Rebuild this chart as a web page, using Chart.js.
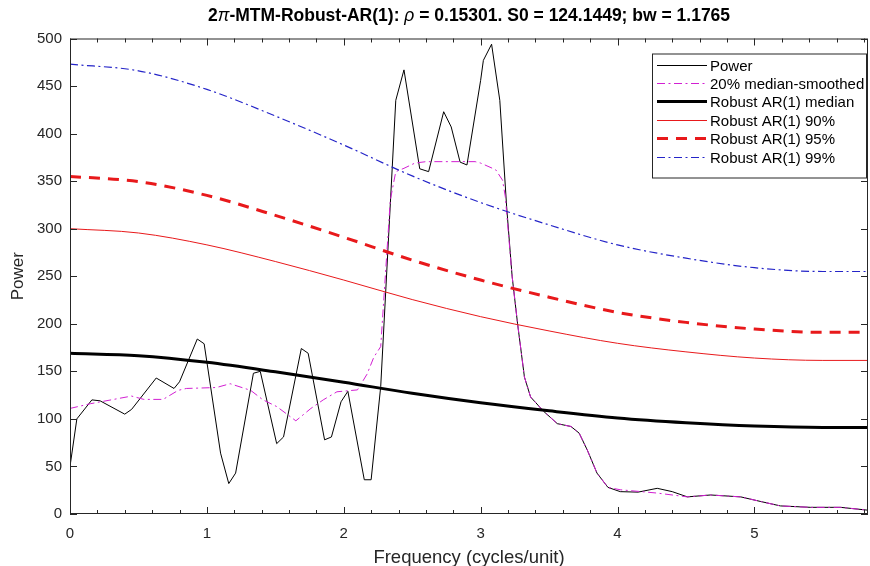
<!DOCTYPE html>
<html>
<head>
<meta charset="utf-8">
<script src="https://cdn.jsdelivr.net/npm/chart.js@4.4.0/dist/chart.umd.min.js"></script>
<style>
  html, body { margin: 0; padding: 0; background: #fff; }
</style>
</head>
<body>
<canvas id="chart" width="870" height="566"></canvas>
<script>
// power spectrum
const freq = [0, 0.05, 0.16, 0.22, 0.40, 0.45, 0.63, 0.76, 0.80, 0.93,
  0.98, 1.10, 1.16, 1.21, 1.34, 1.39, 1.51, 1.56, 1.69, 1.74,
  1.86, 1.91, 1.98, 2.03, 2.15, 2.20, 2.27, 2.38, 2.44, 2.555,
  2.62, 2.73, 2.785, 2.85, 2.90, 3.00, 3.02, 3.08, 3.14, 3.19,
  3.23, 3.27, 3.32, 3.365, 3.46, 3.56, 3.66, 3.72, 3.78, 3.85,
  3.93, 4.02, 4.15, 4.29, 4.40, 4.51, 4.68, 4.90, 5.05, 5.19,
  5.41, 5.63, 5.83];
const power = [50, 100, 120, 119, 105, 110, 143, 132, 139, 184,
  179, 64, 32, 43, 148, 150, 74, 81, 174, 169,
  78, 81, 118, 129, 36, 36, 134, 435, 467, 363,
  360, 423, 407, 370, 367, 456, 477, 494, 435, 323,
  250, 200, 144, 123, 108, 95, 92, 85, 67, 43,
  28, 23.5, 23, 27, 23.5, 18, 20, 18, 13, 8.5,
  7, 7, 4];

// 20% median-smoothed
const smoothFreq = [0, 0.15, 0.30, 0.45, 0.54, 0.68, 0.79, 0.85, 1.07, 1.17,
  1.32, 1.41, 1.51, 1.65, 1.76, 1.85, 1.95, 2.10, 2.17, 2.22,
  2.27, 2.34, 2.38, 2.44, 2.52, 2.60, 2.96, 3.00, 3.11, 3.16,
  3.18, 3.23, 3.27, 3.32, 3.365, 3.46, 3.56, 3.66, 3.72, 3.78,
  3.85, 3.93, 4.02, 4.29, 4.51, 4.68, 4.90, 5.05, 5.19, 5.41,
  5.63, 5.83];
const smoothed = [111, 116, 120, 124, 120.5, 120.5, 130, 132, 133, 137,
  130, 120, 113, 98, 111, 120, 128.5, 130.5, 147, 165,
  176, 330, 360, 363.5, 369, 370.5, 370.5, 369, 362, 351,
  334, 250, 200, 144, 123, 108, 95, 92, 85, 67,
  43, 28, 25.5, 22, 18, 20, 18, 13, 8.5, 7,
  7, 4];

// robust AR(1) background + confidence levels
const arFreq   = [0, 0.5, 1, 1.5, 2, 2.5, 3, 3.5, 4, 4.5, 5, 5.5, 5.83];
const arMedian = [169, 166.5, 159.5, 149.5, 138.5, 127, 117, 108.5, 101, 96, 92.5, 91, 91];
const ar90     = [300, 295.5, 283, 265.5, 246, 225.5, 207.5, 192.5, 179.5, 170.5, 164, 161.5, 161.5];
const ar95     = [355, 349.5, 335, 314, 291, 267, 246, 228, 212, 201.5, 194.5, 191, 191];
const ar99     = [473, 466, 446.5, 418.5, 388, 355.5, 327.5, 304, 283, 269, 259, 255, 255];

const xTickLabels = ['0', '1', '2', '3', '4', '5'];
const yTickLabels = ['0', '50', '100', '150', '200', '250', '300', '350', '400', '450', '500'];

// title pieces: greek letters in italic, rest bold (TeX interpreter look)
const titleParts = [
  ['2', 'bold'], ['π', 'italic'], ['-MTM-Robust-AR(1): ', 'bold'], ['ρ', 'italic'],
  [' = 0.15301. S0 = 124.1449; bw = 1.1765', 'bold']
];

const xMax = 5.83;
const FONT = '"Liberation Sans", Arial, Helvetica, sans-serif';
const AXIS = '#262626';

const pts = (xs, ys) => xs.map((x, i) => ({ x, y: ys[i] }));

Chart.defaults.font.family = FONT;
Chart.defaults.color = AXIS;

// MATLAB style box with inward ticks
const frame = {
  id: 'frame',
  afterDatasetsDraw(chart) {
    const { ctx, chartArea: a, scales: { x, y } } = chart;
    ctx.save();
    ctx.strokeStyle = AXIS;
    ctx.lineWidth = 1;
    ctx.strokeRect(a.left + 0.5, a.top + 0.5, a.right - a.left - 1, a.bottom - a.top - 1);
    ctx.beginPath();
    for (let i = 0; i * 0.2 <= xMax + 1e-9; i++) {
      const px = Math.round(x.getPixelForValue(i * 0.2)) + 0.5;
      const len = i % 5 === 0 ? 7 : 4;
      ctx.moveTo(px, a.bottom); ctx.lineTo(px, a.bottom - len);
      ctx.moveTo(px, a.top); ctx.lineTo(px, a.top + len);
    }
    for (let v = 0; v <= 500; v += 50) {
      const py = Math.round(y.getPixelForValue(v)) + 0.5;
      ctx.moveTo(a.left, py); ctx.lineTo(a.left + 7, py);
      ctx.moveTo(a.right, py); ctx.lineTo(a.right - 7, py);
    }
    ctx.stroke();
    ctx.restore();
  }
};

// title centred over the axes box
const boxTitle = {
  id: 'boxTitle',
  afterDraw(chart) {
    const { ctx, chartArea: a } = chart;
    ctx.save();
    ctx.fillStyle = '#000';
    ctx.textBaseline = 'middle';
    const fontOf = st => (st === 'bold' ? 'bold ' : 'italic ') + '17.5px ' + FONT;
    let total = 0;
    titleParts.forEach(([t, st]) => { ctx.font = fontOf(st); total += ctx.measureText(t).width; });
    let x = (a.left + a.right) / 2 - total / 2;
    titleParts.forEach(([t, st]) => {
      ctx.font = fontOf(st);
      ctx.fillText(t, x, 16);
      x += ctx.measureText(t).width;
    });
    ctx.restore();
  }
};

// legend box in the upper right, like MATLAB's 'northeast'
const boxLegend = {
  id: 'boxLegend',
  afterDraw(chart) {
    const { ctx, chartArea: a } = chart;
    const w = 214, h = 124;
    const left = a.right - 2 - w, top = a.top + 15;
    ctx.save();
    ctx.fillStyle = '#fff';
    ctx.fillRect(left, top, w, h);
    ctx.strokeStyle = AXIS;
    ctx.lineWidth = 1;
    ctx.strokeRect(left + 0.5, top + 0.5, w, h);
    ctx.font = '15px ' + FONT;
    ctx.textBaseline = 'middle';
    chart.data.datasets.forEach((ds, i) => {
      const cy = Math.round(top + 11 + i * 18.4) + 0.5;
      ctx.strokeStyle = ds.borderColor;
      ctx.lineWidth = ds.borderWidth;
      ctx.setLineDash(ds.borderDash || []);
      ctx.beginPath();
      ctx.moveTo(left + 5, cy);
      ctx.lineTo(left + 55, cy);
      ctx.stroke();
      ctx.setLineDash([]);
      ctx.fillStyle = '#000';
      ctx.fillText(ds.label, left + 58, cy + 1);
    });
    ctx.restore();
  }
};

new Chart(document.getElementById('chart'), {
  type: 'line',
  data: {
    datasets: [
      { label: 'Power', data: pts(freq, power), borderColor: '#000', borderWidth: 1, tension: 0, order: 5 },
      { label: '20% median-smoothed', data: pts(smoothFreq, smoothed), borderColor: '#d21fd2', borderWidth: 1, borderDash: [8, 3.5, 2, 3.5], tension: 0, order: 4 },
      { label: 'Robust AR(1) median', data: pts(arFreq, arMedian), borderColor: '#000', borderWidth: 3, cubicInterpolationMode: 'monotone', order: 3 },
      { label: 'Robust AR(1) 90%', data: pts(arFreq, ar90), borderColor: '#e8191b', borderWidth: 1, cubicInterpolationMode: 'monotone', order: 2 },
      { label: 'Robust AR(1) 95%', data: pts(arFreq, ar95), borderColor: '#e8191b', borderWidth: 3, borderDash: [11, 8], cubicInterpolationMode: 'monotone', order: 1 },
      { label: 'Robust AR(1) 99%', data: pts(arFreq, ar99), borderColor: '#2424c8', borderWidth: 1.2, borderDash: [8, 3.5, 2, 3.5], cubicInterpolationMode: 'monotone', order: 0 }
    ]
  },
  options: {
    responsive: false,
    animation: false,
    events: [],
    layout: { padding: { left: 0, right: 2, top: 38.5, bottom: 0 } },
    elements: { point: { radius: 0 }, line: { fill: false } },
    scales: {
      x: {
        type: 'linear', min: 0, max: xMax,
        afterFit: s => { s.height = 52; },
        grid: { display: false, drawTicks: false },
        border: { display: false },
        ticks: { stepSize: 1, includeBounds: false, padding: 11, maxRotation: 0, color: AXIS, font: { size: 15 },
          callback: v => xTickLabels[v] ?? '' },
        title: { display: true, text: 'Frequency (cycles/unit)', color: AXIS, font: { size: 18.5 }, padding: { top: -3, bottom: -3 } }
      },
      y: {
        type: 'linear', min: 0, max: 500,
        afterFit: s => { s.width = 70; },
        grid: { display: false, drawTicks: false },
        border: { display: false },
        ticks: { stepSize: 50, padding: 8, color: AXIS, font: { size: 15 },
          callback: v => yTickLabels[v / 50] ?? '' },
        title: { display: true, text: 'Power', color: AXIS, font: { size: 17 }, padding: { top: 8, bottom: 0 } }
      }
    },
    plugins: {
      legend: { display: false },
      tooltip: { enabled: false },
      title: { display: false }
    }
  },
  plugins: [frame, boxTitle, boxLegend]
});
</script>
</body>
</html>
